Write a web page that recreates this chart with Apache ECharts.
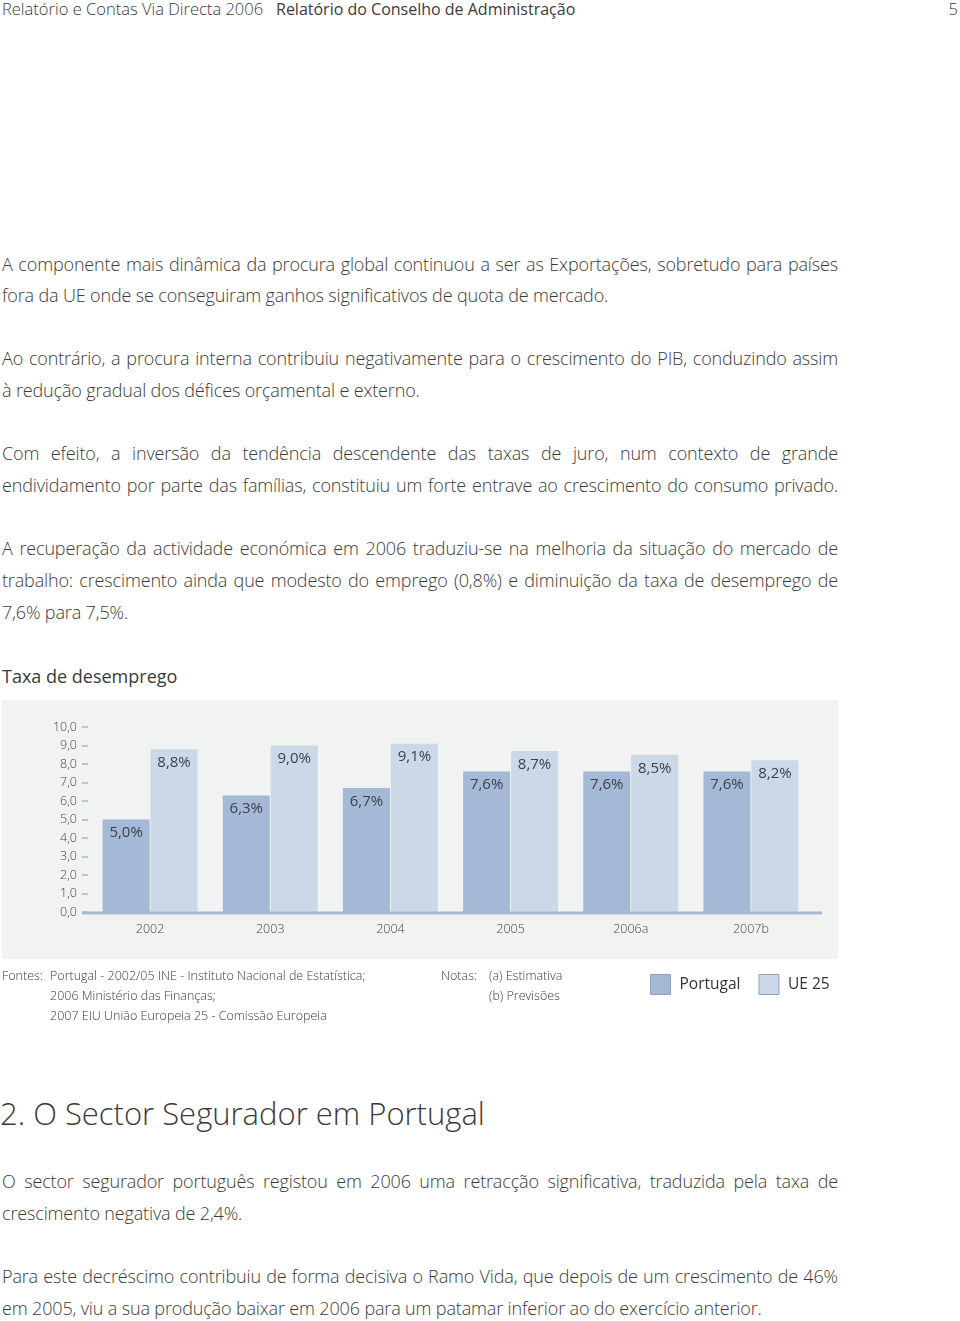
<!DOCTYPE html>
<html>
<head>
<meta charset="utf-8">
<script src="https://cdn.jsdelivr.net/npm/echarts@6/dist/echarts.min.js"></script>
<style>
  html, body { margin: 0; padding: 0; background: #fff; }
  body { width: 960px; height: 1321px; position: relative; overflow: hidden;
         font-family: "Open Sans", "DejaVu Sans", sans-serif; color: #3a3a3a; }
  .ln { position: absolute; left: 2px; width: 836px; height: 32px; line-height: 32px;
        font-size: 18px; letter-spacing: -0.15px; font-weight: 300; white-space: nowrap; }
  .j { text-align: justify; text-align-last: justify; }
  .t { position: absolute; white-space: nowrap; }
  #chart { position: absolute; left: 0; top: 700px; width: 960px; height: 310px; }
</style>
</head>
<body>
<script>
// ---- data ----
const categories = ['2002', '2003', '2004', '2005', '2006a', '2007b'];
const portugal = [5.0, 6.3, 6.7, 7.6, 7.6, 7.6];
const ue25 = [8.8, 9.0, 9.1, 8.7, 8.5, 8.2];
const seriesNames = ['Portugal', 'UE 25'];
const yTicks = { min: 0, max: 10, interval: 1 };
</script>

<div class="t" style="left:2px; top:-2px; font-size:16.5px; line-height:22px; font-weight:300;">Relatório e Contas Via Directa 2006</div>
<div class="t" style="left:276px; top:-2px; font-size:16px; line-height:22px; font-weight:400;">Relatório do Conselho de Administração</div>
<div class="t" style="right:2px; top:-2px; font-size:16.5px; line-height:22px; font-weight:300;">5</div>

<div class="ln j" style="top:248px;">A componente mais dinâmica da procura global continuou a ser as Exportações, sobretudo para países</div>
<div class="ln" style="top:279px;">fora da UE onde se conseguiram ganhos significativos de quota de mercado.</div>

<div class="ln j" style="top:342px;">Ao contrário, a procura interna contribuiu negativamente para o crescimento do PIB, conduzindo assim</div>
<div class="ln" style="top:374px;">à redução gradual dos défices orçamental e externo.</div>

<div class="ln j" style="top:437px;">Com efeito, a inversão da tendência descendente das taxas de juro, num contexto de grande</div>
<div class="ln j" style="top:469px;">endividamento por parte das famílias, constituiu um forte entrave ao crescimento do consumo privado.</div>

<div class="ln j" style="top:532px;">A recuperação da actividade económica em 2006 traduziu-se na melhoria da situação do mercado de</div>
<div class="ln j" style="top:564px;">trabalho: crescimento ainda que modesto do emprego (0,8%) e diminuição da taxa de desemprego de</div>
<div class="ln" style="top:596px;">7,6% para 7,5%.</div>

<div class="t" style="left:2px; top:664px; font-size:18px; line-height:24px; font-weight:400;">Taxa de desemprego</div>

<div id="chart"></div>

<div class="t" style="left:2px; top:966px; font-size:12.5px; line-height:20px; font-weight:300;">Fontes:</div>
<div class="t" style="left:50px; top:966px; font-size:12.5px; line-height:20px; font-weight:300;">Portugal - 2002/05 INE - Instituto Nacional de Estatística;<br>2006 Ministério das Finanças;<br>2007 EIU União Europeia 25 - Comissão Europeia</div>
<div class="t" style="left:441px; top:966px; font-size:12.5px; line-height:20px; font-weight:300;">Notas:</div>
<div class="t" style="left:489px; top:966px; font-size:12.5px; line-height:20px; font-weight:300;">(a) Estimativa<br>(b) Previsões</div>

<div class="t" style="left:0px; top:1092px; font-size:31px; line-height:42px; font-weight:300;">2. O Sector Segurador em Portugal</div>

<div class="ln j" style="top:1165px;">O sector segurador português registou em 2006 uma retracção significativa, traduzida pela taxa de</div>
<div class="ln" style="top:1197px;">crescimento negativa de 2,4%.</div>

<div class="ln j" style="top:1260px;">Para este decréscimo contribuiu de forma decisiva o Ramo Vida, que depois de um crescimento de 46%</div>
<div class="ln" style="top:1292px;">em 2005, viu a sua produção baixar em 2006 para um patamar inferior ao do exercício anterior.</div>

<script>
const chart = echarts.init(document.getElementById('chart'), null, { renderer: 'canvas' });
const fmt = v => v.toFixed(1).replace('.', ',');
const colors = ['#a5b9d6', '#cbd8e8'];
const labelCfg = {
  show: true, position: 'insideTop', distance: 6,
  fontSize: 15, color: '#3b404b', fontFamily: 'Open Sans',
  formatter: p => fmt(p.value) + '%'
};
chart.setOption({
  animation: false,
  textStyle: { fontFamily: 'Open Sans' },
  graphic: [
    { type: 'rect', z: -10, silent: true, shape: { x: 2, y: 0, width: 836, height: 259 },
      style: { fill: '#f1f2f2' } },
    { type: 'line', z: 10, silent: true, shape: { x1: 82, y1: 213, x2: 822, y2: 213 },
      style: { stroke: '#aab9ce', lineWidth: 3 } }
  ],
  legend: {
    left: 650, top: 274, padding: 0, itemWidth: 20, itemHeight: 20, itemGap: 18,
    icon: 'rect',
    textStyle: { fontSize: 15.5, color: '#333', fontFamily: 'Open Sans', padding: [0, 0, 0, 4] },
    data: seriesNames.map((n, i) => ({ name: n, itemStyle: { color: colors[i], borderColor: '#8fa2bd', borderWidth: 1 } }))
  },
  grid: { left: 90, right: 149, top: 27, height: 185 },
  xAxis: {
    type: 'category', data: categories,
    axisLine: { show: false }, axisTick: { show: false },
    axisLabel: { fontSize: 12.5, color: '#444', margin: 11, fontWeight: 300 }
  },
  yAxis: {
    type: 'value', min: yTicks.min, max: yTicks.max, interval: yTicks.interval, offset: 2,
    axisLine: { show: false },
    axisTick: { show: true, length: 6, lineStyle: { color: '#bac6d7', width: 2 } },
    axisLabel: { formatter: v => fmt(v), fontSize: 12.5, color: '#444', margin: 11, fontWeight: 300 },
    splitLine: { show: false }
  },
  series: [
    { name: seriesNames[0], type: 'bar', data: portugal, barWidth: 47, barGap: '2%',
      itemStyle: { color: colors[0] }, label: labelCfg },
    { name: seriesNames[1], type: 'bar', data: ue25, barWidth: 47,
      itemStyle: { color: colors[1] }, label: labelCfg }
  ]
});
</script>
</body>
</html>
